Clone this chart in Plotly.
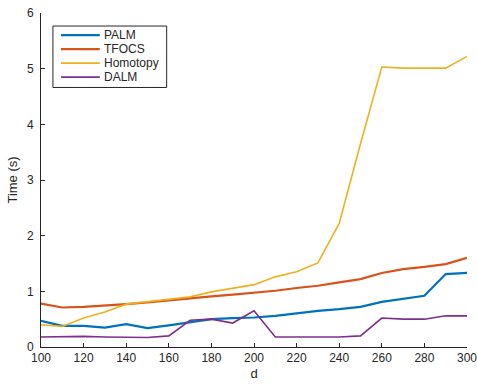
import plotly.graph_objects as go

d = [100, 110, 120, 130, 140, 150, 160, 170, 180, 190, 200,
     210, 220, 230, 240, 250, 260, 270, 280, 290, 300]
palm = [0.47, 0.38, 0.38, 0.35, 0.41, 0.34, 0.39, 0.45, 0.50, 0.52, 0.53,
        0.56, 0.61, 0.65, 0.68, 0.72, 0.81, 0.86, 0.92, 1.31, 1.33]
tfocs = [0.78, 0.71, 0.72, 0.74, 0.77, 0.80, 0.84, 0.87, 0.91, 0.94, 0.97,
         1.01, 1.06, 1.10, 1.16, 1.22, 1.33, 1.40, 1.44, 1.49, 1.60]
homotopy = [0.40, 0.37, 0.52, 0.63, 0.77, 0.81, 0.86, 0.90, 0.99, 1.06, 1.12,
            1.26, 1.35, 1.51, 2.22, 3.65, 5.03, 5.01, 5.01, 5.01, 5.22]
dalm = [0.18, 0.19, 0.19, 0.18, 0.18, 0.17, 0.20, 0.48, 0.50, 0.43, 0.65,
        0.18, 0.18, 0.18, 0.18, 0.20, 0.52, 0.50, 0.50, 0.56, 0.56]

names = ["PALM", "TFOCS", "Homotopy", "DALM"]
values = [palm, tfocs, homotopy, dalm]
colors = ["#0072BD", "#D95319", "#EDB120", "#7E2F8E"]
widths = [2.2, 2.2, 1.6, 1.6]

FONT = "Liberation Sans, Arial, sans-serif"
TXT = "#262626"

fig = go.Figure()
for name, ys, color, w in zip(names, values, colors, widths):
    fig.add_trace(go.Scatter(x=d, y=ys, mode="lines", name=name,
                             line=dict(color=color, width=w), showlegend=False))

axis_common = dict(
    showgrid=False, zeroline=False, showline=True, linecolor=TXT,
    linewidth=1, ticks="inside", ticklen=4, tickcolor=TXT,
    tickfont=dict(family=FONT, size=12, color=TXT),
    mirror=False, ticklabeloverflow="allow", automargin=False,
)
fig.update_xaxes(range=[100, 300], tickvals=list(range(100, 301, 20)),
                 title=dict(text="d", font=dict(family=FONT, size=13, color=TXT), standoff=4),
                 **axis_common)
fig.update_yaxes(range=[0, 6], tickvals=[0, 1, 2, 3, 4, 5, 6], ticklabelstandoff=4,
                 title=dict(text="Time (s)", font=dict(family=FONT, size=13, color=TXT), standoff=6),
                 **axis_common)

# Manual legend (MATLAB-style compact box)
shapes = [dict(type="rect", xref="paper", yref="paper",
               x0=0.028, x1=0.295, y0=0.777, y1=0.961,
               line=dict(color=TXT, width=1), fillcolor="white", layer="above")]
annotations = []
row_y = [0.934, 0.892, 0.850, 0.808]
for name, color, w, yy in zip(names, colors, widths, row_y):
    shapes.append(dict(type="line", xref="paper", yref="paper",
                       x0=0.047, x1=0.138, y0=yy, y1=yy,
                       line=dict(color=color, width=w), layer="above"))
    annotations.append(dict(text=name, xref="paper", yref="paper",
                            x=0.144, y=yy, xanchor="left", yanchor="middle",
                            showarrow=False,
                            font=dict(family=FONT, size=12, color=TXT)))

fig.update_layout(
    width=477, height=385,
    margin=dict(l=41, r=10, t=13, b=38),
    paper_bgcolor="white", plot_bgcolor="white",
    shapes=shapes, annotations=annotations,
    showlegend=False, hovermode=False,
)
# Remove the default 8px body margin so the figure fills the window exactly.
fig.write_html("out.html", config={"displayModeBar": False},
               post_script="document.body.style.margin='0';")
